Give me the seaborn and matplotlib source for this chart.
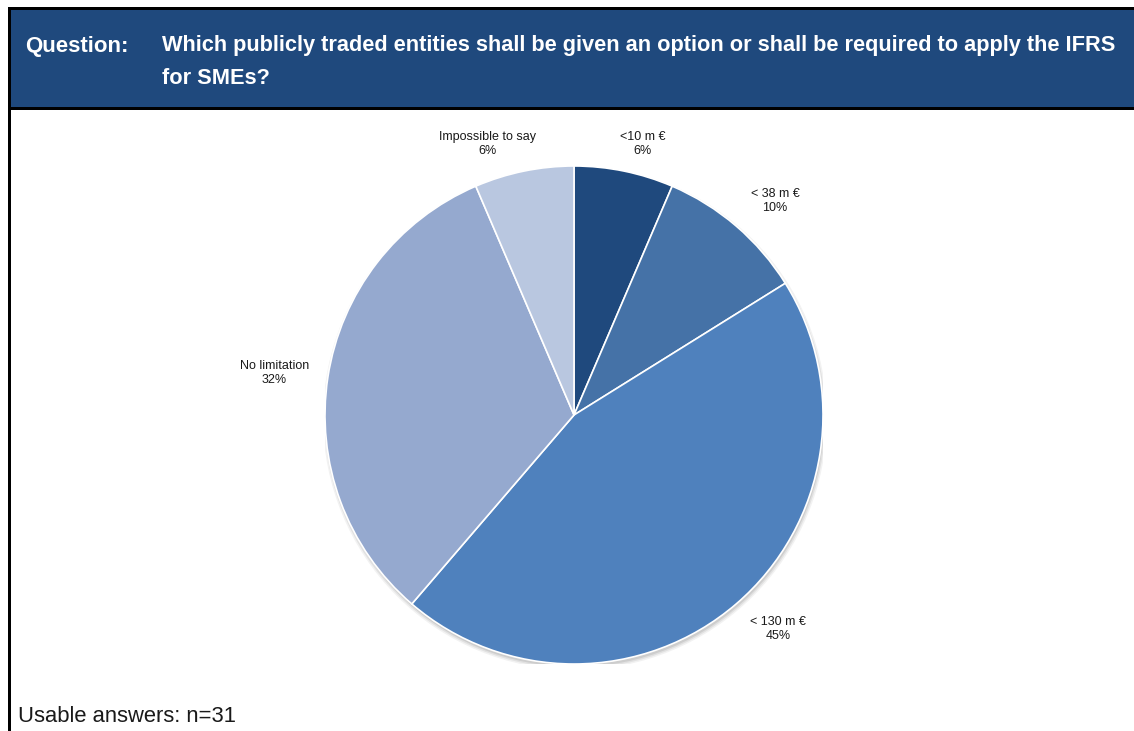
import matplotlib
matplotlib.use("Agg")
import matplotlib.pyplot as plt
from matplotlib.patches import Rectangle, Circle
from matplotlib import font_manager
import seaborn as sns

# Survey answers (n = 31)
categories = ["<10 m €", "< 38 m €", "< 130 m €", "No limitation", "Impossible to say"]
counts = [2, 3, 14, 10, 2]
colors = ["#1F497D", "#4572A7", "#4F81BD", "#95A9CF", "#B9C7E0"]

question = ("Which publicly traded entities shall be given an option or shall be required to apply the IFRS\n"
            "for SMEs?")
footnote = "Usable answers: n=31"

sns.set_theme(style="white")
available = {f.name for f in font_manager.fontManager.ttflist}
narrow = "Liberation Sans Narrow" if "Liberation Sans Narrow" in available else "Liberation Sans"
plt.rcParams["font.family"] = ["Liberation Sans", "DejaVu Sans"]

W, H = 1134, 731
fig = plt.figure(figsize=(W / 100, H / 100), dpi=100)
fig.patch.set_facecolor("white")


def fx(px):
    return px / W


def fy(py):
    return 1 - py / H


# Frame and header banner
fig.patches.append(Rectangle((fx(11), fy(107)), fx(W - 11), 97 / H,
                             transform=fig.transFigure, facecolor="#1F497D", edgecolor="none"))
fig.patches.append(Rectangle((fx(8), fy(10)), fx(W - 8), 3 / H,
                             transform=fig.transFigure, facecolor="black", edgecolor="none"))
fig.patches.append(Rectangle((fx(8), fy(110)), fx(W - 8), 3 / H,
                             transform=fig.transFigure, facecolor="black", edgecolor="none"))
fig.patches.append(Rectangle((fx(8), 0), 3 / W, fy(7),
                             transform=fig.transFigure, facecolor="black", edgecolor="none"))

fig.text(fx(25), fy(52), "Question:", color="white", fontsize=16, fontweight="bold",
         family=[narrow, "DejaVu Sans"], va="baseline", ha="left")
fig.text(fx(162), fy(62), question, color="white", fontsize=15.7, fontweight="bold",
         family=[narrow, "DejaVu Sans"], va="center", ha="left", linespacing=1.75)

fig.text(fx(18), fy(716), footnote, color="#1a1a1a", fontsize=15.8,
         family=[narrow, "DejaVu Sans"], va="center", ha="left")

# Pie
cx, cy, r = 574, 415, 249
ax = fig.add_axes([fx(cx - r), fy(cy + r), 2 * r / W, 2 * r / H])
ax.set_axis_off()
wedges, _ = ax.pie(counts, colors=colors, startangle=90, counterclock=False,
                   wedgeprops=dict(edgecolor="white", linewidth=1.2, zorder=3))
# soft drop shadow under the pie
for k, a in enumerate([0.10, 0.14, 0.20]):
    ax.add_patch(Circle((0.004, -0.012), 1.0 + 0.006 * (2 - k), facecolor="#808080",
                        edgecolor="none", alpha=a, zorder=1))
ax.set_xlim(-1, 1)
ax.set_ylim(-1, 1)
ax.set_aspect("equal")

# label anchors, in units of the pie radius
label_xy = [(0.277, 1.088), (0.807, 0.859), (0.819, -0.859), (-1.203, 0.169), (-0.349, 1.088)]
total = sum(counts)
for name, c, (lx, ly) in zip(categories, counts, label_xy):
    ax.text(lx, ly, f"{name}\n{round(100 * c / total)}%",
            ha="center", va="center", fontsize=9, color="#1a1a1a", linespacing=1.3,
            clip_on=False)

fig.savefig("out.png", dpi=100)
